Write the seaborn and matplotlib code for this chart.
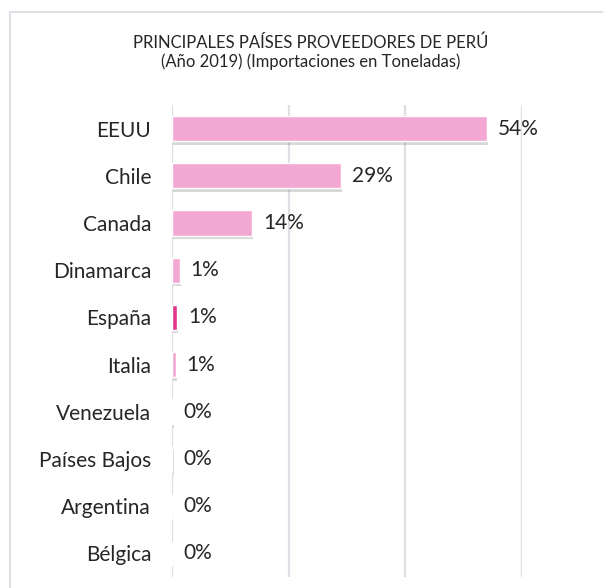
import matplotlib
matplotlib.use("Agg")
import matplotlib.pyplot as plt
import matplotlib.patheffects as pe
from matplotlib.lines import Line2D
import seaborn as sns
import pandas as pd

countries = ["EEUU", "Chile", "Canada", "Dinamarca", "España", "Italia",
             "Venezuela", "Países Bajos", "Argentina", "Bélgica"]
shares = [0.54, 0.29, 0.137, 0.013, 0.009, 0.006, 0.001, 0.0008, 0.0005, 0.0003]
title_lines = ["PRINCIPALES PAÍSES PROVEEDORES DE PERÚ",
               "(Año 2019) (Importaciones en Toneladas)"]

pink = "#F2A8D2"
magenta = "#E2368E"
colors = [magenta if c == "España" else pink for c in countries]

df = pd.DataFrame({"pais": countries, "share": shares})

sns.set_theme(style="white")
plt.rcParams["font.family"] = ["Lato", "DejaVu Sans"]

W, H = 603, 588
fig = plt.figure(figsize=(W / 100, H / 100), dpi=100)
ax = fig.add_axes([172 / W, 1 - 577 / H, (522 - 172) / W, (577 - 105) / H])

sns.barplot(data=df, x="share", y="pais", hue="pais", palette=colors,
            orient="h", width=0.53, legend=False, ax=ax, saturation=1)

for p in ax.patches:
    p.set_path_effects([pe.SimplePatchShadow(offset=(0.8, -2.5), shadow_rgbFace="#808080", alpha=0.3),
                        pe.Normal()])

for cont in ax.containers:
    ax.bar_label(cont, labels=[f"{v:.0%}" for v in cont.datavalues], padding=8,
                 fontsize=15, color="#262626")

ax.set_xlim(0, 0.6)
ax.set_xticks([0, 0.2, 0.4, 0.6])
ax.set_xticklabels([])
ax.grid(axis="x", color="#DEDEE4", linewidth=1.6)
ax.set_axisbelow(True)
for s in ax.spines.values():
    s.set_visible(False)
ax.tick_params(axis="both", length=0)
ax.tick_params(axis="y", pad=15, labelsize=15, labelcolor="#262626")
ax.tick_params(axis="x", labelbottom=False)
ax.set_xlabel("")
ax.set_ylabel("")

fig.text(311 / W, 1 - 43 / H, title_lines[0], ha="center", va="center", fontsize=12, color="#262626")
fig.text(311 / W, 1 - 62 / H, title_lines[1], ha="center", va="center", fontsize=12, color="#262626")

# chart border (top and left edges visible)
fig.add_artist(Line2D([10 / W, 1], [1 - 12 / H, 1 - 12 / H], transform=fig.transFigure, color="#DEDEE4", lw=1.5))
fig.add_artist(Line2D([10 / W, 10 / W], [0, 1 - 12 / H], transform=fig.transFigure, color="#DEDEE4", lw=1.5))

fig.savefig("out.png", dpi=100)
